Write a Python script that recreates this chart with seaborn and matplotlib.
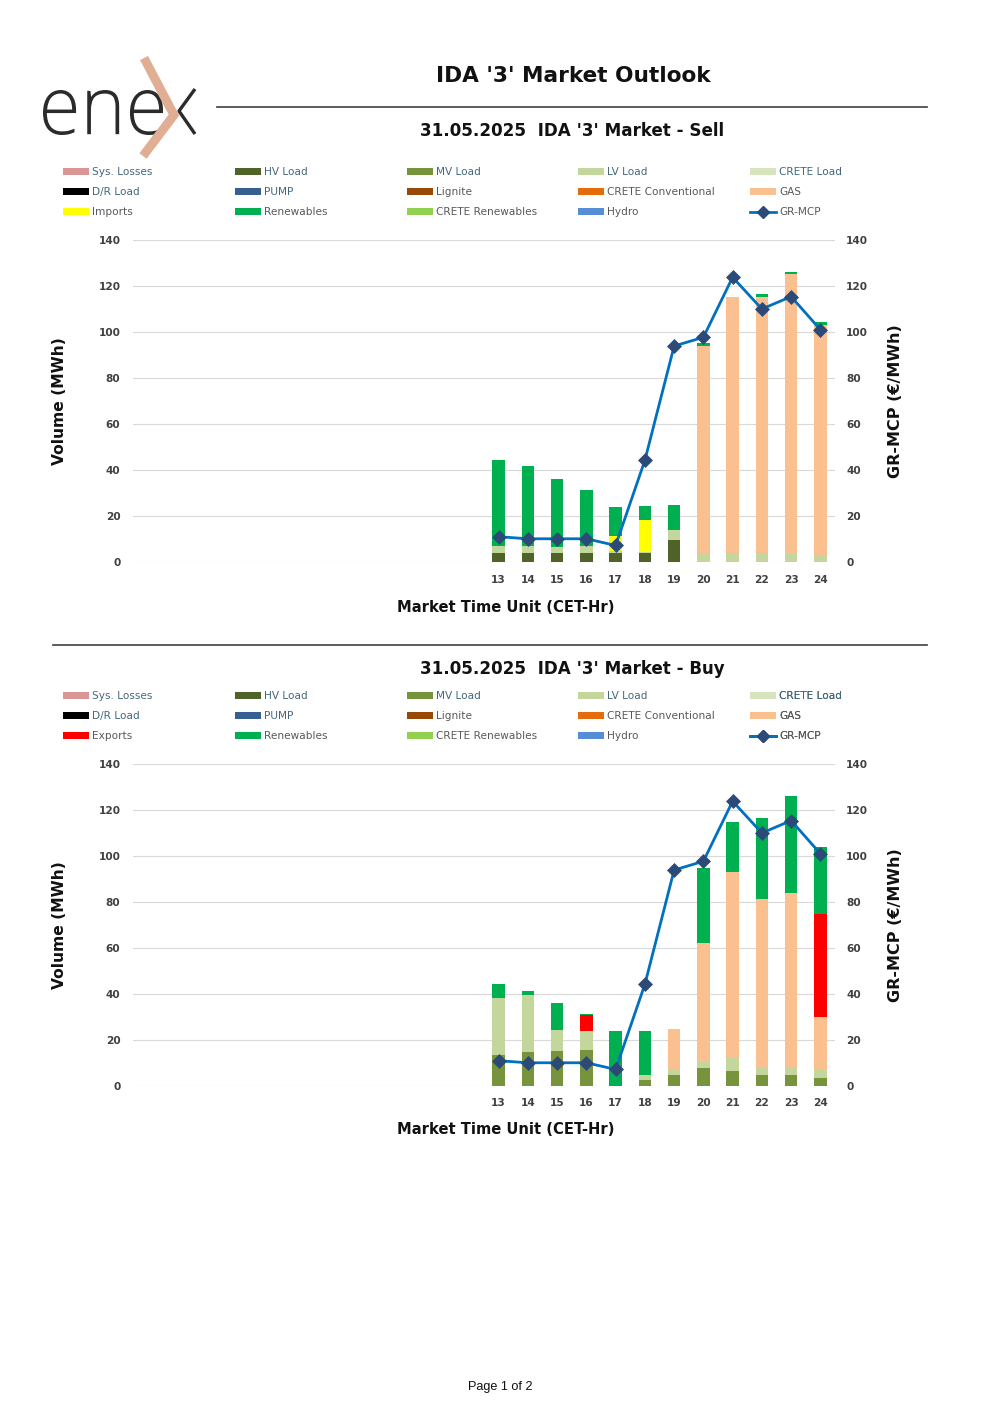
import numpy as np
import pandas as pd
import matplotlib
matplotlib.use("Agg")
import matplotlib.pyplot as plt
import seaborn as sns
from matplotlib.patches import Patch, PathPatch
from matplotlib.lines import Line2D
from matplotlib.textpath import TextPath
from matplotlib.font_manager import FontProperties
from matplotlib.transforms import Affine2D

# ---------------- data ----------------
hours_all = list(range(1, 25))
hours = list(range(13, 25))
gr_mcp = [11.0, 10.1, 10.1, 10.1, 7.2, 44.2, 93.9, 97.7, 123.8, 110.0, 115.4, 101.0]

sell_hv_load = [4.0, 4.0, 4.0, 4.0, 3.9, 3.9, 9.7, 0.0, 0.0, 0.0, 0.0, 0.0]
sell_lv_load = [2.8, 2.8, 2.4, 2.8, 0.7, 0.4, 4.2, 4.1, 3.8, 3.8, 3.5, 3.0]
sell_gas = [0.0, 0.0, 0.0, 0.0, 0.0, 0.0, 0.0, 90.0, 111.3, 111.6, 121.7, 100.0]
sell_imports = [0.0, 0.0, 0.0, 0.0, 6.8, 13.8, 0.0, 0.0, 0.0, 0.0, 0.0, 0.0]
sell_renewables = [37.5, 34.8, 29.8, 24.6, 12.7, 6.1, 11.0, 1.0, 0.0, 1.3, 1.0, 1.2]

buy_mv_load = [13.3, 14.9, 15.4, 15.5, 0.0, 2.5, 4.8, 8.0, 6.5, 4.8, 4.6, 3.6]
buy_lv_load = [25.0, 24.7, 8.8, 8.3, 0.0, 2.3, 2.4, 2.3, 5.8, 2.9, 3.1, 3.4]
buy_gas = [0.0, 0.0, 0.0, 0.0, 0.0, 0.0, 17.4, 52.0, 80.7, 73.5, 76.4, 23.1]
buy_exports = [0.0, 0.0, 0.0, 7.1, 0.0, 0.0, 0.0, 0.0, 0.0, 0.0, 0.0, 44.7]
buy_renewables = [6.0, 1.8, 11.9, 0.5, 24.1, 19.3, 0.0, 32.5, 21.8, 35.2, 41.8, 29.0]

legend_cols_common = [
    ["Sys. Losses", "D/R Load", None],
    ["HV Load", "PUMP", "Renewables"],
    ["MV Load", "Lignite", "CRETE Renewables"],
    ["LV Load", "CRETE Conventional", "Hydro"],
    ["CRETE Load", "GAS", "GR-MCP"],
]

colors = {
    "Sys. Losses": "#D99694", "HV Load": "#4F6228", "MV Load": "#77933C",
    "LV Load": "#C3D69B", "CRETE Load": "#D7E4BD", "D/R Load": "#000000",
    "PUMP": "#376092", "Lignite": "#984807", "CRETE Conventional": "#E46C0A",
    "GAS": "#FAC090", "Imports": "#FFFF00", "Exports": "#FF0000",
    "Renewables": "#00B050", "CRETE Renewables": "#92D050", "Hydro": "#558ED5",
}
LINE_C = "#0070C0"
MARK_C = "#2C4A78"
BLUE_TXT = {"Sys. Losses", "HV Load", "MV Load", "LV Load", "CRETE Load", "D/R Load", "PUMP"}

plt.rcParams["font.family"] = ["DejaVu Sans"]

W, H = 1000, 1415
fig = plt.figure(figsize=(W / 100, H / 100), dpi=100)
bg = fig.add_axes([0, 0, 1, 1], zorder=-5)
bg.set_xlim(0, W)
bg.set_ylim(H, 0)
bg.axis("off")

texts_to_fit = []


def ptext(x, y, s, width=None, height=None, **kw):
    t = bg.text(x, y, s, ha=kw.pop("ha", "center"), va=kw.pop("va", "center"), **kw)
    texts_to_fit.append((t, width, height))
    return t


# ---------------- logo ----------------
tp = TextPath((0, 0), "ene", size=1, prop=FontProperties(family=["Open Sans", "DejaVu Sans"], weight="light"))
ext = tp.get_extents()
sx = (163 - 43) / ext.width
sy = (135 - 90) / ext.height
tr = Affine2D().translate(-ext.x0, -ext.y0).scale(sx, -sy).translate(43, 135) + bg.transData
bg.add_patch(PathPatch(tp, transform=tr, facecolor="#2B2B2B", edgecolor="none"))
bg.plot([195, 179, 195], [89, 111, 134], color="#2B2B2B", lw=2.4, solid_capstyle="butt")
bg.plot([144, 174, 143], [58, 115, 156], color="#DFAE93", lw=6.5,
        solid_capstyle="butt", solid_joinstyle="miter")

# ---------------- titles / lines ----------------
ptext(573, 76, "IDA '3' Market Outlook", width=276, fontsize=16, fontweight="bold", color="#111111")
bg.plot([217, 927], [107, 107], color="#404040", lw=1.2)
bg.plot([53, 927], [645, 645], color="#404040", lw=1.2)
ptext(500, 1387, "Page 1 of 2", width=65, fontsize=10, family="Liberation Sans", color="#111111")


def legend_block(y_top, third_label):
    cols_x = [63, 235, 407, 578, 750]
    for ci, col in enumerate(legend_cols_common):
        labels = [third_label if lab is None else lab for lab in col]
        handles = []
        for lab in labels:
            if lab == "GR-MCP":
                handles.append(Line2D([], [], color=LINE_C, lw=2.0, marker="D", markersize=6.5,
                                      markerfacecolor=MARK_C, markeredgecolor=MARK_C))
            else:
                handles.append(Patch(facecolor=colors[lab], edgecolor="none"))
        leg = bg.legend(handles, labels, loc="upper left",
                        bbox_to_anchor=(cols_x[ci] / W, 1 - y_top / H),
                        bbox_transform=fig.transFigure, frameon=False, fontsize=7.6,
                        borderpad=0, borderaxespad=0, handlelength=2.5, handleheight=0.58,
                        handletextpad=0.25, labelspacing=0.96)
        for t, lab in zip(leg.get_texts(), labels):
            t.set_color("#44687A" if lab in BLUE_TXT else "#595959")
        bg.add_artist(leg)


def market_chart(y_top_px, y_bot_px, subtitle, sub_y, leg_y, layers, xlabel_y):
    ptext(572, sub_y, subtitle, width=304, fontsize=14, fontweight="bold", color="#111111")
    legend_block(leg_y, layers[-2][0])
    ax = fig.add_axes([133 / W, 1 - y_bot_px / H, (835 - 133) / W, (y_bot_px - y_top_px) / H])
    bottom = np.zeros(len(hours))
    for name, vals in layers:
        vals = np.asarray(vals, dtype=float)
        sns.barplot(x=hours, y=vals, order=hours_all, color=colors[name], saturation=1,
                    width=0.42, bottom=bottom, linewidth=0, errorbar=None, ax=ax, zorder=2)
        bottom = bottom + vals
    ax2 = ax.twinx()
    sns.pointplot(x=hours, y=gr_mcp, order=hours_all, color=LINE_C, markers="D",
                  errorbar=None, ax=ax2, linewidth=2.0, markersize=7.5,
                  markerfacecolor=MARK_C, markeredgecolor=MARK_C, markeredgewidth=0.5)
    ticks = list(range(0, 141, 20))
    for a in (ax, ax2):
        a.set_ylim(0, 140)
        a.set_yticks(ticks, labels=[str(t) for t in ticks], fontweight="bold")
        a.tick_params(axis="both", length=0, labelsize=7.6, labelcolor="#404040")
        for s in a.spines.values():
            s.set_visible(False)
        a.set_xlabel("")
        a.set_ylabel("")
    ax.tick_params(axis="y", pad=9)
    ax2.tick_params(axis="y", pad=8)
    ax.set_xlim(-0.5, 23.5)
    ax.set_xticks(range(len(hours_all)),
                  labels=[str(h) if h in hours else "" for h in hours_all], fontweight="bold")
    ax.tick_params(axis="x", pad=9)
    ax.yaxis.grid(True, color="#D9D9D9", lw=0.8, zorder=0)
    ax.xaxis.grid(False)
    ax.set_axisbelow(True)
    ax.set_facecolor("none")
    mid = (y_top_px + y_bot_px) / 2
    ptext(60, mid, "Volume (MWh)", height=128, rotation=90, fontsize=12, fontweight="bold", color="#111111")
    ptext(895, mid, "GR-MCP (€/MWh)", height=153, rotation=90, fontsize=12, fontweight="bold", color="#111111")
    ptext(506, xlabel_y, "Market Time Unit (CET-Hr)", width=217, fontsize=12, fontweight="bold", color="#111111")
    return ax


sell_layers = [("HV Load", sell_hv_load), ("LV Load", sell_lv_load), ("GAS", sell_gas),
               ("Imports", sell_imports), ("Renewables", sell_renewables)]
buy_layers = [("MV Load", buy_mv_load), ("LV Load", buy_lv_load), ("GAS", buy_gas),
              ("Exports", buy_exports), ("Renewables", buy_renewables)]

market_chart(240, 562, "31.05.2025  IDA '3' Market - Sell", 131, 167, sell_layers, 607)
market_chart(764, 1086, "31.05.2025  IDA '3' Market - Buy", 669, 691, buy_layers, 1130)

fig.canvas.draw()
r = fig.canvas.get_renderer()
for t, w, h in texts_to_fit:
    bb = t.get_window_extent(renderer=r)
    if w:
        t.set_fontsize(t.get_fontsize() * w / bb.width)
    elif h:
        t.set_fontsize(t.get_fontsize() * h / bb.height)

fig.savefig("out.png", dpi=100, facecolor="white")
